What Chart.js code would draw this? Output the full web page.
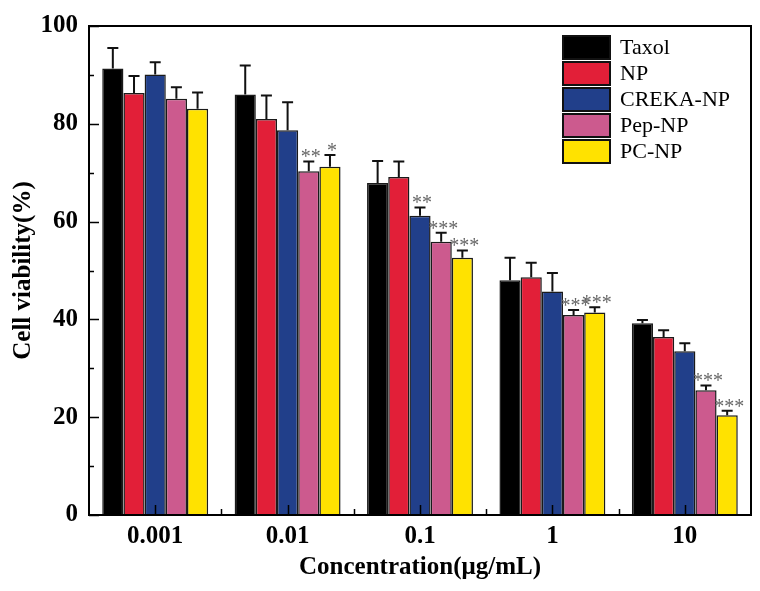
<!DOCTYPE html>
<html>
<head>
<meta charset="utf-8">
<script src="https://cdn.jsdelivr.net/npm/chart.js@4.4.0/dist/chart.umd.min.js"></script>
<style>
html, body { margin: 0; padding: 0; background: #fff; }
#wrap { width: 760px; height: 591px; }
</style>
</head>
<body>
<div id="wrap"><canvas id="grafico-viabilidade"></canvas></div>
<script>
/* DADOS */
const concentracoes = ["0.001", "0.01", "0.1", "1", "10"];
const series = ["Taxol", "NP", "CREKA-NP", "Pep-NP", "PC-NP"];
const cores = ["#000000", "#E21F38", "#213F8A", "#CC5A8E", "#FFE200"];

const taxol = [91.3, 86.0, 67.9, 48.0, 39.2];
const np = [86.3, 81.0, 69.1, 48.6, 36.4];
const crekaNp = [90.1, 78.7, 61.2, 45.7, 33.5];
const pepNp = [85.1, 70.3, 55.9, 40.9, 25.5];
const pcNp = [83.1, 71.2, 52.6, 41.4, 20.4];

// desvio (só a parte de cima aparece)
const errTaxol = [4.2, 5.9, 4.5, 4.6, 0.7];
const errNp = [3.5, 4.8, 3.2, 3.0, 1.4];
const errCrekaNp = [2.5, 5.7, 1.7, 3.8, 1.6];
const errPepNp = [2.4, 2.0, 1.8, 1.0, 1.0];
const errPcNp = [3.3, 2.4, 1.5, 1.1, 0.9];

// significância
const sigTaxol = ["", "", "", "", ""];
const sigNp = ["", "", "", "", ""];
const sigCrekaNp = ["", "", "**", "", ""];
const sigPepNp = ["", "**", "***", "***", "***"];
const sigPcNp = ["", "*", "***", "***", "***"];

const yTicks = [0, 20, 40, 60, 80, 100];
/* FIM DADOS */

const valores = [taxol, np, crekaNp, pepNp, pcNp];
const erros = [errTaxol, errNp, errCrekaNp, errPepNp, errPcNp];
const sigs = [sigTaxol, sigNp, sigCrekaNp, sigPepNp, sigPcNp];

const fonte = "'Liberation Serif', 'Times New Roman', serif";

/* PLUGIN: barras de erro, estrelas, moldura, ticks e legenda */
const extras = {
    id: 'extras',
    afterDatasetsDraw(chart) {
        const ctx = chart.ctx;
        const y = chart.scales.y;
        const x = chart.scales.x;
        const area = chart.chartArea;
        ctx.save();

        // barras de erro
        chart.data.datasets.forEach((ds, i) => {
            const meta = chart.getDatasetMeta(i);
            meta.data.forEach((bar, j) => {
                const topo = y.getPixelForValue(ds.data[j] + ds.erro[j]);
                ctx.strokeStyle = '#111';
                ctx.lineWidth = 2;
                ctx.beginPath();
                ctx.moveTo(bar.x, bar.y);
                ctx.lineTo(bar.x, topo);
                ctx.moveTo(bar.x - 5.5, topo);
                ctx.lineTo(bar.x + 5.5, topo);
                ctx.stroke();
                if (ds.sig[j]) {
                    ctx.fillStyle = '#666';
                    ctx.font = "20px " + fonte;
                    ctx.textAlign = 'center';
                    ctx.textBaseline = 'alphabetic';
                    ctx.fillText(ds.sig[j], bar.x + 2, topo + 2);
                }
            });
        });

        // moldura
        ctx.strokeStyle = '#000';
        ctx.lineWidth = 2;
        ctx.strokeRect(area.left, area.top, area.right - area.left, area.bottom - area.top);

        // ticks do eixo y (para dentro)
        ctx.lineWidth = 1.5;
        ctx.beginPath();
        for (let v = 0; v <= 100; v += 10) {
            const py = Math.round(y.getPixelForValue(v)) + 0.5;
            const len = v % 20 === 0 ? 10 : 5;
            ctx.moveTo(area.left, py);
            ctx.lineTo(area.left + len, py);
        }
        // ticks do eixo x
        const n = chart.data.labels.length;
        for (let k = 0; k < n; k++) {
            const cx = Math.round(x.getPixelForValue(k)) + 0.5;
            ctx.moveTo(cx, area.bottom);
            ctx.lineTo(cx, area.bottom - 10);
            if (k < n - 1) {
                const bx = Math.round((x.getPixelForValue(k) + x.getPixelForValue(k + 1)) / 2) + 0.5;
                ctx.moveTo(bx, area.bottom);
                ctx.lineTo(bx, area.bottom - 6);
            }
        }
        ctx.stroke();

        // legenda
        const lx = area.right - 188, ly = area.top + 10;
        chart.data.datasets.forEach((ds, i) => {
            const by = ly + i * 26;
            ctx.fillStyle = ds.backgroundColor;
            ctx.fillRect(lx, by, 47, 23);
            ctx.strokeStyle = '#111';
            ctx.lineWidth = 2;
            ctx.strokeRect(lx, by, 47, 23);
            ctx.fillStyle = '#000';
            ctx.font = "22px " + fonte;
            ctx.textAlign = 'left';
            ctx.textBaseline = 'middle';
            ctx.fillText(ds.label, lx + 57, by + 12.5);
        });
        ctx.restore();
    }
};

new Chart(document.getElementById("grafico-viabilidade"), {
    type: 'bar',
    data: {
        labels: concentracoes,
        datasets: series.map((nome, i) => ({
            label: nome,
            data: valores[i],
            erro: erros[i],
            sig: sigs[i],
            backgroundColor: cores[i],
            borderColor: '#1a1a1a',
            borderWidth: 1.5,
            categoryPercentage: 0.8,
            barPercentage: 1.0
        }))
    },
    options: {
        responsive: true,
        maintainAspectRatio: false,
        animation: false,
        layout: { padding: { top: 23, right: 9, left: 0, bottom: 0 } },
        plugins: { legend: { display: false }, tooltip: { enabled: false } },
        scales: {
            x: {
                grid: { display: false, drawTicks: false },
                border: { display: false },
                ticks: { color: '#000', padding: 7, font: { family: fonte, size: 25, weight: 'bold' } },
                title: {
                    display: true, text: 'Concentration(μg/mL)', color: '#000',
                    font: { family: fonte, size: 25, weight: 'bold' },
                    padding: { top: 0, bottom: 8 }
                },
                afterFit(scale) { scale.height = 76; }
            },
            y: {
                min: 0, max: 100,
                afterBuildTicks(scale) { scale.ticks = yTicks.map(v => ({ value: v })); },
                grid: { display: false, drawTicks: false },
                border: { display: false },
                ticks: { color: '#000', padding: 11, font: { family: fonte, size: 25, weight: 'bold' } },
                title: {
                    display: true, text: 'Cell viability(%)', color: '#000',
                    font: { family: fonte, size: 25, weight: 'bold' },
                    padding: { top: 9, bottom: 0 }
                },
                afterFit(scale) { scale.width = 89; }
            }
        }
    },
    plugins: [extras]
});
</script>
</body>
</html>
